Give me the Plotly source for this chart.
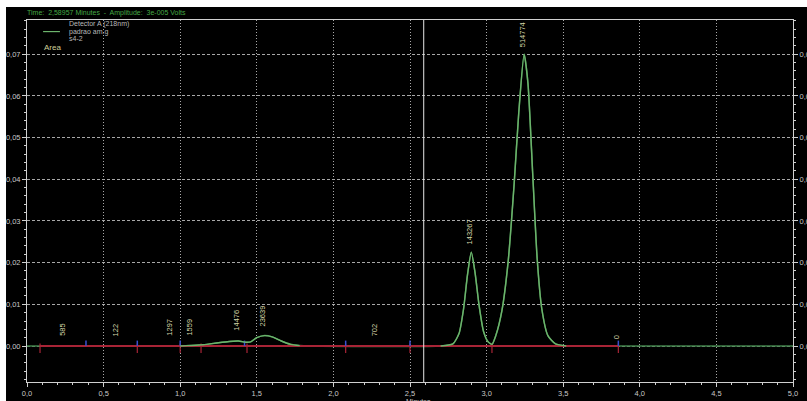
import plotly.graph_objects as go

# Detector A (218 nm) trace for sample "padrao am.g / s4-2" (minutes, volts)
trace_time = [0.00, 0.50, 1.00, 1.05, 1.15, 1.25, 1.32, 1.38, 1.43, 1.46, 1.50,
              1.55, 1.60, 1.66, 1.72, 1.78, 1.85, 2.70, 2.78, 2.82, 2.85, 2.875,
              2.90, 2.925, 2.95, 2.98, 3.01, 3.035, 3.06, 3.10, 3.14, 3.18, 3.21,
              3.245, 3.27, 3.30, 3.33, 3.36, 3.40, 3.45, 3.52, 3.60, 5.00]
trace_amp = [0.0, 0.0, 0.0, 0.0001, 0.0003, 0.0008, 0.0011, 0.0012, 0.0009, 0.0010, 0.0020,
             0.0025, 0.0022, 0.0012, 0.0004, 0.0001, 0.0, 0.0, 0.0005, 0.0030, 0.0090, 0.0170,
             0.0225, 0.0175, 0.0100, 0.0035, 0.0010, 0.0004, 0.0025, 0.0085, 0.0200, 0.0390, 0.0560,
             0.0700, 0.0630, 0.0420, 0.0210, 0.0090, 0.0025, 0.0005, 0.0, 0.0, 0.0]

# Integration baseline and peak boundary markers
baseline_time = [0.085, 3.86]
baseline_amp = [0.0, 0.0]
peak_end_marks = [0.085, 0.72, 1.0, 1.136, 1.436, 2.08, 2.5, 3.035, 3.86]
peak_start_marks = [0.385, 0.72, 1.0, 1.42, 2.08, 2.5, 3.86]

# Peak areas
area_labels = ["585", "122", "1297", "1559", "14476", "23639", "702", "143267", "514774", "0"]
area_time = [0.23, 0.58, 0.93, 1.06, 1.37, 1.54, 2.27, 2.885, 3.235, 3.85]
area_amp = [0.0019, 0.0019, 0.0020, 0.0020, 0.0033, 0.0043, 0.0019, 0.0240, 0.0712, 0.0011]

# Cursor readout
cursor_time = 2.58957
cursor_amp = "3e-005"

x_ticks = [0.0, 0.5, 1.0, 1.5, 2.0, 2.5, 3.0, 3.5, 4.0, 4.5, 5.0]
y_ticks = [0.00, 0.01, 0.02, 0.03, 0.04, 0.05, 0.06, 0.07]

X_RANGE = [0.0, 5.0]
Y_RANGE = [-0.00863, 0.0782]

GREEN = "#6cb46c"
DARK_GREEN = "#3f8048"
RED = "#a82436"
BLUE = "#3a4fd0"
AXIS = "#d0d0d0"
GRID = "#a8a8a8"
LABEL = "#d6d6a8"
FONT = "Liberation Sans, Arial, sans-serif"

fig = go.Figure()

# full detector trace
fig.add_trace(go.Scatter(x=trace_time, y=trace_amp, mode="lines",
                         line=dict(color=DARK_GREEN, width=1.5, shape="spline", smoothing=0.6),
                         hoverinfo="skip", showlegend=False))

# integration baseline
fig.add_trace(go.Scatter(x=baseline_time, y=baseline_amp, mode="lines",
                         line=dict(color=RED, width=2.2), hoverinfo="skip", showlegend=False))

# peak end drop marks (red) and start marks (blue)
rx, ry = [], []
for t in peak_end_marks:
    rx += [t, t, None]
    ry += [-0.0017, 0.0006, None]
fig.add_trace(go.Scatter(x=rx, y=ry, mode="lines", line=dict(color=RED, width=1.2),
                         hoverinfo="skip", showlegend=False))
bx, by = [], []
for t in peak_start_marks:
    bx += [t, t, None]
    by += [0.0, 0.0013, None]
fig.add_trace(go.Scatter(x=bx, y=by, mode="lines", line=dict(color=BLUE, width=1.5),
                         hoverinfo="skip", showlegend=False))

# integrated peak regions drawn over the baseline
for lo, hi in [(1.0, 1.8), (2.7, 3.56)]:
    idx = [i for i, t in enumerate(trace_time) if lo <= t <= hi]
    fig.add_trace(go.Scatter(x=[trace_time[i] for i in idx], y=[trace_amp[i] for i in idx],
                             mode="lines",
                             line=dict(color=GREEN, width=1.4, shape="spline", smoothing=0.6),
                             hoverinfo="skip", showlegend=False))

# invisible trace to carry the right-hand amplitude axis
fig.add_trace(go.Scatter(x=X_RANGE, y=Y_RANGE, yaxis="y2", mode="lines",
                         line=dict(width=0), opacity=0, hoverinfo="skip", showlegend=False))

# area labels
for lab, t, a in zip(area_labels, area_time, area_amp):
    fig.add_annotation(x=t, y=a, text=lab, textangle=-90, showarrow=False,
                       xanchor="center", yanchor="bottom",
                       font=dict(family=FONT, size=7.5, color=LABEL))

# cursor line
fig.add_shape(type="line", xref="x", yref="paper", x0=cursor_time, x1=cursor_time,
              y0=0, y1=1, line=dict(color="#e8e8e8", width=1), layer="above")

# dark panel background
fig.add_shape(type="rect", xref="paper", yref="paper", x0=-0.0274, x1=1.1,
              y0=-0.2, y1=1.0359, fillcolor="#000000", line=dict(width=0), layer="below")

# header readout
fig.add_annotation(xref="paper", yref="paper", x=-0.003, y=1.003,
                   xanchor="left", yanchor="bottom",
                   text=f"Time:  {cursor_time:.5f}".replace(".", ",") +
                        f" Minutes  -  Amplitude:  {cursor_amp} Volts",
                   showarrow=False, font=dict(family=FONT, size=7, color="#45a845"))

# legend block
fig.add_annotation(xref="paper", yref="paper", x=0.052, y=0.988, xanchor="left", yanchor="middle",
                   text="Detector A (218nm)", showarrow=False,
                   font=dict(family=FONT, size=7, color="#b8b8b8"))
fig.add_shape(type="line", xref="paper", yref="paper", x0=0.021, x1=0.043, y0=0.968, y1=0.968,
              line=dict(color=GREEN, width=1.2))
fig.add_annotation(xref="paper", yref="paper", x=0.052, y=0.968, xanchor="left", yanchor="middle",
                   text="padrao am.g", showarrow=False,
                   font=dict(family=FONT, size=7, color="#b8b8b8"))
fig.add_annotation(xref="paper", yref="paper", x=0.052, y=0.949, xanchor="left", yanchor="middle",
                   text="s4-2", showarrow=False,
                   font=dict(family=FONT, size=7, color="#b8b8b8"))
fig.add_annotation(xref="paper", yref="paper", x=0.019, y=0.923, xanchor="left", yanchor="middle",
                   text="Area", showarrow=False,
                   font=dict(family=FONT, size=8, color="#cfcf98"))

# x-axis title
fig.add_annotation(xref="paper", yref="paper", x=0.5105, y=-0.038, xanchor="center", yanchor="top",
                   text="Minutes", showarrow=False,
                   font=dict(family=FONT, size=7, color="#c8c8c8"))

axis_common = dict(
    showline=True, linecolor=AXIS, linewidth=1,
    ticks="outside", ticklen=4, tickcolor=AXIS, tickwidth=1,
    tickfont=dict(family=FONT, size=7.5, color="#c8c8c8"),
    zeroline=False, automargin=False,
)

fig.update_layout(
    width=807, height=401,
    margin=dict(l=27, r=14, t=20, b=19, autoexpand=False),
    paper_bgcolor="#ffffff", plot_bgcolor="#000000",
    separators=",.",
    showlegend=False,
    xaxis=dict(range=X_RANGE, tickvals=x_ticks, tickformat=".1f", mirror=True,
               griddash="1px,2px", showgrid=True, gridcolor=GRID, gridwidth=1,
               minor=dict(dtick=0.1, tick0=0, ticks="outside", ticklen=2, tickcolor=AXIS,
                          showgrid=False),
               **axis_common),
    yaxis=dict(range=Y_RANGE, tickvals=y_ticks, tickformat=".2f", mirror=True,
               griddash="3px,2px", showgrid=True, gridcolor=GRID, gridwidth=1,
               minor=dict(dtick=0.002, tick0=0, ticks="outside", ticklen=2, tickcolor=AXIS,
                          showgrid=False),
               **axis_common),
    yaxis2=dict(range=Y_RANGE, tickvals=y_ticks, tickformat=".2f", overlaying="y", side="right",
                showgrid=False,
                minor=dict(dtick=0.002, tick0=0, ticks="outside", ticklen=2, tickcolor=AXIS,
                           showgrid=False),
                **axis_common),
)

fig.write_html("out.html")
